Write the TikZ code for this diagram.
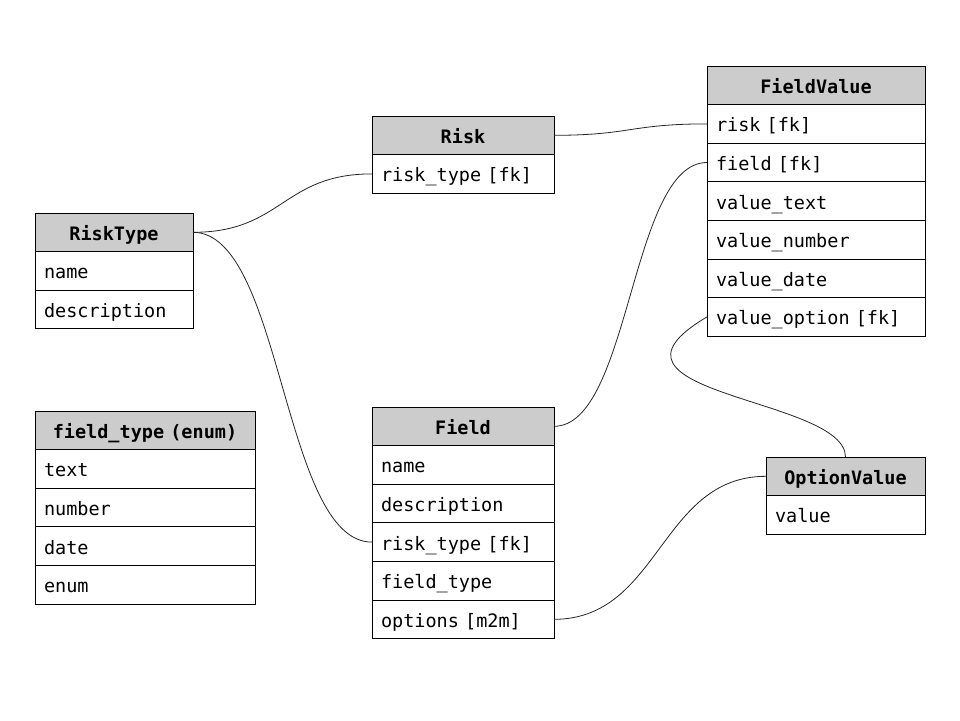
\documentclass[tikz,border=0pt]{standalone}
\usepackage{fontspec}
\usetikzlibrary{calc}
\newfontfamily\tabmono{DejaVu Sans Mono}
\definecolor{headgray}{HTML}{CCCCCC}
\def\fixspace{\fontdimen2\font=0.602em\fontdimen3\font=0pt\fontdimen4\font=0pt\relax}
\def\relcurve(#1)(#2){\draw[relline] let \p1=(#1), \p2=(#2) in (#1) .. controls ({(\x1+\x2)/2},\y1) and ({(\x1+\x2)/2},\y2) .. (#2);}
\tikzset{
	tbl/.style={draw, line width=0.9pt, minimum height=38.6pt, inner ysep=0pt, inner xsep=9pt,
		outer sep=0pt, text height=16pt, text depth=0pt, anchor=north west, text width=#1,
		font={\tabmono\fontsize{18.5pt}{22pt}\selectfont\fixspace}},
	tblhead/.style={tbl=#1, fill=headgray, align=center,
		font={\tabmono\bfseries\fontsize{18.5pt}{22pt}\selectfont\fixspace}},
	tblrow/.style={tbl=#1, fill=white, align=left},
	relline/.style={line width=0.8pt, black!85},
}

\begin{document}
\begin{tikzpicture}[x=1pt, y=-1pt]
			%%%%% START %%%%%
			\useasboundingbox[fill=white] (0, 0) rectangle (960, 720);
			
			% RiskType
			\node[tblhead=140] (rt-head) at (35, 213) {RiskType};
			\node[tblrow=140] (rt-name) at (rt-head.south west) {name};
			\node[tblrow=140] (rt-desc) at (rt-name.south west) {description};
			
			% field_type (enum)
			\node[tblhead=202] (ft-head) at (35, 411) {field\_type (enum)};
			\node[tblrow=202] (ft-text) at (ft-head.south west) {text};
			\node[tblrow=202] (ft-number) at (ft-text.south west) {number};
			\node[tblrow=202] (ft-date) at (ft-number.south west) {date};
			\node[tblrow=202] (ft-enum) at (ft-date.south west) {enum};
			
			% Risk
			\node[tblhead=164] (risk-head) at (372, 116) {Risk};
			\node[tblrow=164] (risk-rtype) at (risk-head.south west) {risk\_type [fk]};
			
			% Field
			\node[tblhead=164] (field-head) at (372, 407) {Field};
			\node[tblrow=164] (field-name) at (field-head.south west) {name};
			\node[tblrow=164] (field-desc) at (field-name.south west) {description};
			\node[tblrow=164] (field-rtype) at (field-desc.south west) {risk\_type [fk]};
			\node[tblrow=164] (field-ftype) at (field-rtype.south west) {field\_type};
			\node[tblrow=164] (field-opts) at (field-ftype.south west) {options [m2m]};
			
			% FieldValue
			\node[tblhead=200] (fv-head) at (707, 66) {FieldValue};
			\node[tblrow=200] (fv-risk) at (fv-head.south west) {risk [fk]};
			\node[tblrow=200] (fv-field) at (fv-risk.south west) {field [fk]};
			\node[tblrow=200] (fv-text) at (fv-field.south west) {value\_text};
			\node[tblrow=200] (fv-number) at (fv-text.south west) {value\_number};
			\node[tblrow=200] (fv-date) at (fv-number.south west) {value\_date};
			\node[tblrow=200] (fv-opt) at (fv-date.south west) {value\_option [fk]};
			
			% OptionValue
			\node[tblhead=141] (ov-head) at (766, 457) {OptionValue};
			\node[tblrow=141] (ov-value) at (ov-head.south west) {value};
			
			% relations
			\relcurve(risk-head.east)(fv-risk.west)
			\relcurve(rt-head.east)(risk-rtype.west)
			\relcurve(rt-head.east)(field-rtype.west)
			\relcurve(field-head.east)(fv-field.west)
			\relcurve(field-opts.east)(ov-head.west)
			\draw[relline] (fv-opt.west) .. controls +(-132, 78) and +(0, -60) .. (ov-head.north);
			
			%%%%% END %%%%%
\end{tikzpicture}
\end{document}
